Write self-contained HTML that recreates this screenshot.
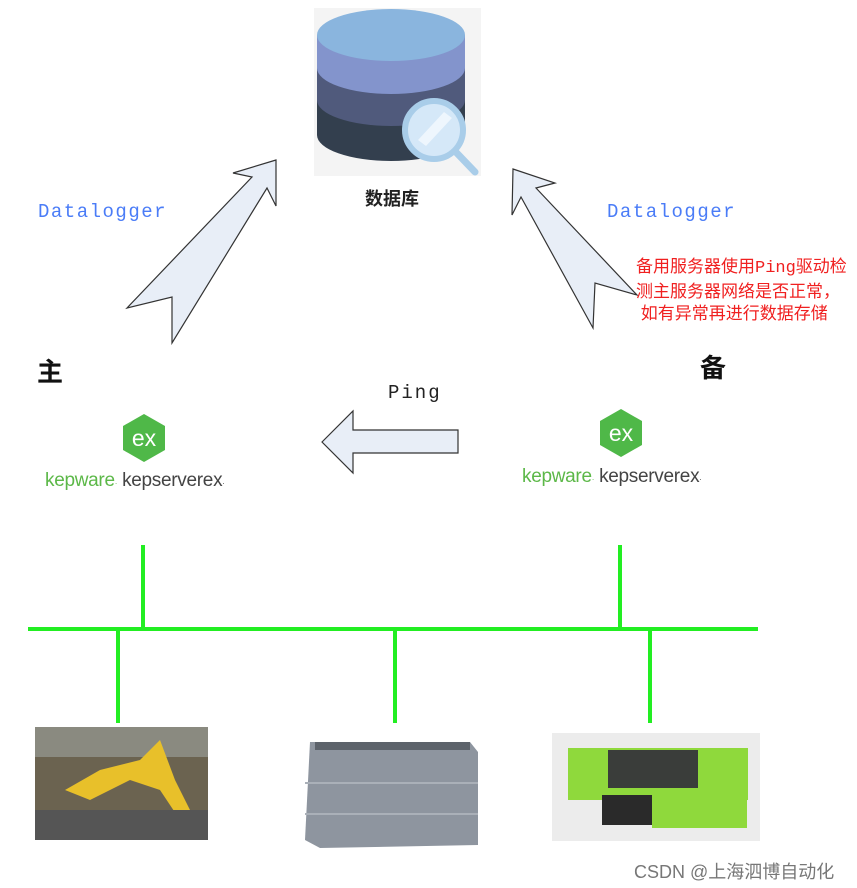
<!DOCTYPE html>
<html><head><meta charset="utf-8"><style>
body{margin:0;background:#fff;width:857px;height:888px;overflow:hidden;position:relative;font-family:"Liberation Sans","Noto Sans CJK SC",sans-serif}
.t{position:absolute;white-space:nowrap}
.mono{font-family:"Liberation Mono","Noto Sans CJK SC",monospace}
</style></head><body>
<svg width="857" height="888" style="position:absolute;left:0;top:0">
<rect x="314" y="8" width="167" height="168" fill="#f4f4f4"/>
<path d="M317 35 V135 A74 26 0 0 0 465 135 V35 Z" fill="#333f4e"/>
<path d="M317 35 V100 A74 26 0 0 0 465 100 V35 Z" fill="#505a7c"/>
<path d="M317 35 V68 A74 26 0 0 0 465 68 V35 Z" fill="#8394cc"/>
<ellipse cx="391" cy="35" rx="74" ry="26" fill="#8ab5de"/>
<line x1="452" y1="148" x2="475" y2="172" stroke="#a9cde9" stroke-width="7" stroke-linecap="round"/>
<circle cx="434" cy="130" r="29" fill="#d5e8f8" stroke="#a9cde9" stroke-width="6"/>
<path d="M418 140 L444 112 L452 118 L426 146 Z" fill="#eef6fd"/>
<polygon points="276,160 233,173 252,177 127,308 172,297 172,343 267,188 276,206" fill="#e8eef7" stroke="#333" stroke-width="1.2"/>
<polygon points="513,169 555,183 536,188 637,295 595,283 593,328 521,197 512,215" fill="#e8eef7" stroke="#333" stroke-width="1.2"/>
<polygon points="322,442 353,411 353,430 458,430 458,453 353,453 353,473" fill="#e8eef7" stroke="#333" stroke-width="1.2"/>
<g stroke="#22ee22" stroke-width="4">
<line x1="28" y1="629" x2="758" y2="629"/>
<line x1="143" y1="545" x2="143" y2="629"/>
<line x1="620" y1="545" x2="620" y2="629"/>
<line x1="118" y1="629" x2="118" y2="723"/>
<line x1="395" y1="629" x2="395" y2="723"/>
<line x1="650" y1="629" x2="650" y2="723"/>
</g>
<polygon points="144,414 165,426 165,450 144,462 123,450 123,426" fill="#4fb848"/>
<text x="144" y="446" font-size="23" fill="#fff" text-anchor="middle" font-family="Liberation Sans">ex</text>
<polygon points="621,409 642,421 642,445 621,457 600,445 600,421" fill="#4fb848"/>
<text x="621" y="441" font-size="23" fill="#fff" text-anchor="middle" font-family="Liberation Sans">ex</text>
<rect x="35" y="727" width="173" height="113" fill="#6b6350"/>
<rect x="35" y="727" width="173" height="30" fill="#8a8a80"/>
<path d="M65 790 L100 770 L140 760 L160 740 L175 780 L190 810 L180 820 L160 790 L130 780 L90 800 Z" fill="#e8c02a"/>
<rect x="35" y="810" width="173" height="30" fill="#555"/>
<path d="M310 742 L470 742 L478 752 L478 845 L320 848 L305 840 Z" fill="#8e959f"/>
<rect x="315" y="742" width="155" height="8" fill="#5d636b"/>
<line x1="305" y1="783" x2="478" y2="783" stroke="#aab0b8" stroke-width="2"/>
<line x1="305" y1="814" x2="478" y2="814" stroke="#aab0b8" stroke-width="2"/>
<rect x="552" y="733" width="208" height="108" fill="#ececec"/>
<rect x="568" y="748" width="180" height="52" fill="#8fd93c"/>
<rect x="608" y="750" width="90" height="38" fill="#3a3d3a"/>
<rect x="602" y="795" width="50" height="30" fill="#2a2a2a"/>
<rect x="652" y="790" width="95" height="38" fill="#8fd93c"/>
</svg>
<div class="t mono" style="left:38px;top:201px;font-size:19px;letter-spacing:1.5px;color:#4a7cf7">Datalogger</div>
<div class="t mono" style="left:607px;top:201px;font-size:19px;letter-spacing:1.5px;color:#4a7cf7">Datalogger</div>
<div class="t" style="left:365px;top:185px;font-size:18px;font-weight:bold;color:#222">数据库</div>
<div class="t" style="left:37px;top:352px;font-size:26px;font-weight:bold;color:#111">主</div>
<div class="t" style="left:700px;top:348px;font-size:26px;font-weight:bold;color:#111">备</div>
<div class="t mono" style="left:388px;top:382px;font-size:19px;letter-spacing:2px;color:#222">Ping</div>
<div class="t" style="left:636px;top:256px;font-size:17px;line-height:22.5px;color:#f02020">备用服务器使用<span class="mono">Ping</span>驱动检<br>测主服务器网络是否正常，<br>&nbsp;如有异常再进行数据存储</div>
<div class="t" style="left:45px;top:470px;font-size:19px;letter-spacing:-0.3px;color:#5cb848">kepware<span style="font-size:8px">·</span> <span style="color:#444">kepserverex<span style="font-size:8px">·</span></span></div>
<div class="t" style="left:522px;top:466px;font-size:19px;letter-spacing:-0.3px;color:#5cb848">kepware<span style="font-size:8px">·</span> <span style="color:#444">kepserverex<span style="font-size:8px">·</span></span></div>
<div class="t" style="left:634px;top:858px;font-size:18px;color:#777">CSDN @上海泗博自动化</div>
</body></html>
